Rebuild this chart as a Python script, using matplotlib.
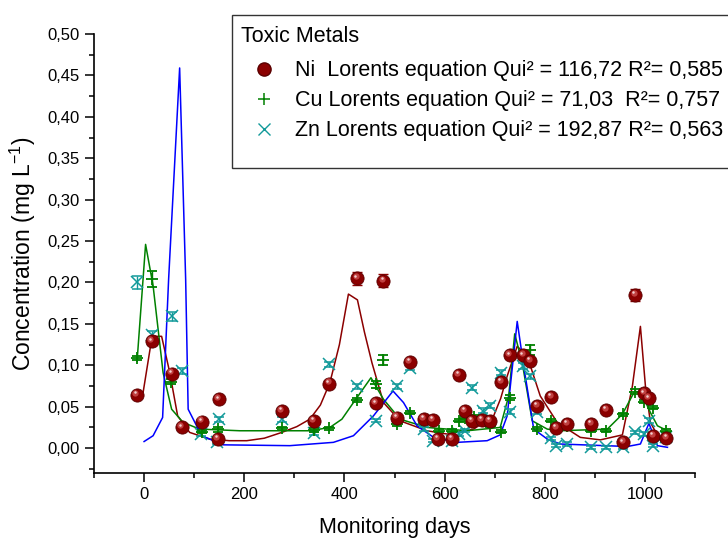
import numpy as np
import matplotlib
matplotlib.use("Agg")
import matplotlib.pyplot as plt
from matplotlib.lines import Line2D
from matplotlib.patches import Rectangle
from matplotlib.ticker import MultipleLocator, FuncFormatter
from matplotlib.transforms import offset_copy

plt.rcParams["font.family"] = ["Liberation Sans", "DejaVu Sans"]

# measured points (monitoring day, concentration mg/L)
ni_x = np.array([-14, 16, 55, 75, 115, 147, 149, 275, 339, 370, 426, 463, 478, 505,
                 531, 559, 576, 587, 615, 628, 641, 655, 675, 691, 713, 730, 757,
                 771, 785, 813, 823, 845, 893, 923, 957, 981, 999, 1008, 1017, 1043])
ni_y = np.array([0.064, 0.129, 0.090, 0.025, 0.032, 0.011, 0.059, 0.045, 0.033, 0.078,
                 0.205, 0.054, 0.202, 0.037, 0.104, 0.035, 0.034, 0.011, 0.011, 0.088,
                 0.045, 0.033, 0.034, 0.033, 0.080, 0.112, 0.112, 0.105, 0.051, 0.062,
                 0.024, 0.029, 0.029, 0.046, 0.007, 0.185, 0.066, 0.060, 0.015, 0.012])
ni_err = np.array([0.003, 0.004, 0.003, 0.003, 0.002, 0.002, 0.002, 0.003, 0.002, 0.003,
                   0.008, 0.003, 0.008, 0.002, 0.003, 0.002, 0.002, 0.002, 0.002, 0.003,
                   0.002, 0.002, 0.002, 0.002, 0.003, 0.004, 0.004, 0.004, 0.003, 0.003,
                   0.002, 0.002, 0.002, 0.002, 0.002, 0.007, 0.003, 0.003, 0.002, 0.002])

cu_x = np.array([-14, 16, 53, 115, 148, 275, 339, 370, 426, 463, 478, 505, 531, 588, 615,
                 628, 641, 658, 691, 712, 731, 771, 785, 813, 845, 893, 923, 957, 981,
                 999, 1008, 1017, 1043])
cu_y = np.array([0.109, 0.204, 0.080, 0.020, 0.023, 0.024, 0.022, 0.024, 0.058, 0.077,
                 0.106, 0.029, 0.043, 0.021, 0.021, 0.033, 0.037, 0.038, 0.027, 0.020,
                 0.061, 0.118, 0.023, 0.033, 0.027, 0.021, 0.021, 0.041, 0.068, 0.056,
                 0.060, 0.049, 0.021])
cu_err = np.array([0.002, 0.010, 0.003, 0.002, 0.003, 0.002, 0.002, 0.002, 0.002, 0.004,
                   0.006, 0.002, 0.002, 0.002, 0.002, 0.002, 0.002, 0.002, 0.002, 0.002,
                   0.003, 0.006, 0.002, 0.002, 0.002, 0.002, 0.002, 0.002, 0.003, 0.002,
                   0.002, 0.002, 0.002])

zn_x = np.array([-14, 16, 55, 75, 113, 146, 150, 275, 339, 370, 426, 463, 505, 531, 559,
                 576, 615, 628, 641, 655, 677, 691, 713, 730, 757, 771, 785, 813, 823,
                 845, 893, 923, 957, 981, 999, 1008, 1017, 1043])
zn_y = np.array([0.200, 0.137, 0.159, 0.093, 0.017, 0.007, 0.035, 0.035, 0.018, 0.101,
                 0.075, 0.033, 0.075, 0.097, 0.023, 0.009, 0.009, 0.017, 0.021, 0.073,
                 0.045, 0.051, 0.091, 0.044, 0.099, 0.087, 0.044, 0.012, 0.003, 0.005,
                 0.001, 0.001, 0.001, 0.019, 0.017, 0.033, 0.003, 0.013])
zn_err = np.array([0.008, 0.005, 0.005, 0.004, 0.002, 0.002, 0.003, 0.003, 0.002, 0.003,
                   0.003, 0.002, 0.003, 0.003, 0.002, 0.002, 0.002, 0.002, 0.002, 0.003,
                   0.003, 0.003, 0.003, 0.003, 0.004, 0.003, 0.003, 0.002, 0.002, 0.002,
                   0.002, 0.002, 0.002, 0.002, 0.002, 0.003, 0.002, 0.002])

# Lorentz fit curves
ni_fit_x = np.array([-2, 16, 35, 51, 67, 91, 131, 170, 205, 240, 275, 305, 331, 352, 371,
                     390, 408, 426, 440, 455, 478, 511, 565, 605, 658, 698, 712, 725,
                     745, 765, 791, 825, 871, 911, 955, 975, 991, 1001, 1011, 1031, 1045])
ni_fit_y = np.array([0.067, 0.135, 0.135, 0.092, 0.039, 0.019, 0.011, 0.009, 0.009, 0.012,
                     0.019, 0.026, 0.035, 0.052, 0.079, 0.125, 0.186, 0.179, 0.140, 0.103,
                     0.055, 0.033, 0.021, 0.017, 0.023, 0.039, 0.060, 0.087, 0.123, 0.111,
                     0.063, 0.031, 0.013, 0.010, 0.016, 0.075, 0.147, 0.075, 0.031, 0.009,
                     0.007])

cu_fit_x = np.array([-14, 3, 18, 38, 55, 78, 111, 191, 331, 371, 395, 418, 453, 478, 511,
                     565, 645, 711, 728, 740, 755, 775, 805, 831, 925, 955, 978, 991,
                     1011, 1025, 1045])
cu_fit_y = np.array([0.105, 0.246, 0.196, 0.091, 0.047, 0.031, 0.023, 0.021, 0.021, 0.025,
                     0.035, 0.055, 0.085, 0.059, 0.035, 0.025, 0.021, 0.025, 0.063, 0.138,
                     0.103, 0.033, 0.023, 0.021, 0.023, 0.041, 0.067, 0.069, 0.043, 0.027,
                     0.021])

zn_fit_x = np.array([0, 18, 37, 49, 71, 83, 88, 115, 158, 291, 378, 418, 458, 497, 518,
                     545, 578, 625, 685, 711, 725, 745, 758, 778, 805, 831, 965, 991,
                     1008, 1025, 1045])
zn_fit_y = np.array([0.008, 0.015, 0.037, 0.204, 0.459, 0.204, 0.047, 0.015, 0.004, 0.003,
                     0.007, 0.015, 0.039, 0.069, 0.055, 0.027, 0.013, 0.007, 0.009, 0.016,
                     0.039, 0.153, 0.099, 0.023, 0.011, 0.005, 0.002, 0.005, 0.030, 0.003,
                     0.001])

legend_title = "Toxic Metals"
labels = ["Ni  Lorents equation Qui² = 116,72 R²= 0,585",
          "Cu Lorents equation Qui² = 71,03  R²= 0,757",
          "Zn Lorents equation Qui² = 192,87 R²= 0,563"]

NI_C = "#8b0000"
CU_C = "#008000"
ZN_C = "#129a9a"

fig = plt.figure(figsize=(7.28, 5.41), dpi=100)
ax = fig.add_axes([94 / 728, 1 - 473 / 541, (695 - 94) / 728, (473 - 34) / 541])

ax.plot(ni_fit_x, ni_fit_y, color=NI_C, lw=1.1, zorder=2)
ax.plot(cu_fit_x, cu_fit_y, color=CU_C, lw=1.1, zorder=2)
ax.plot(zn_fit_x, zn_fit_y, color="#0000ff", lw=1.1, zorder=2)

ax.errorbar(zn_x, zn_y, yerr=zn_err, fmt="x", color=ZN_C, ms=8, mew=1.1,
            capsize=3.5, elinewidth=1, zorder=3)
ax.errorbar(cu_x, cu_y, yerr=cu_err, fmt="+", color=CU_C, ms=9, mew=1.3,
            capsize=3.5, elinewidth=1, zorder=4)
ax.errorbar(ni_x, ni_y, yerr=ni_err, fmt="none", ecolor=NI_C, capsize=3.5,
            elinewidth=1, zorder=5)
# shaded ball look for Ni markers
ax.plot(ni_x, ni_y, "o", ms=9.5, mfc=NI_C, mec="#5a0000", mew=0.6, ls="none", zorder=6)
hl = offset_copy(ax.transData, fig=fig, x=-1.2, y=1.6, units="points")
ax.plot(ni_x, ni_y, "o", ms=4.5, mfc="#c04040", mec="none", ls="none",
        transform=hl, zorder=7)
hl2 = offset_copy(ax.transData, fig=fig, x=-1.4, y=2.0, units="points")
ax.plot(ni_x, ni_y, "o", ms=1.8, mfc="#f2d0d0", mec="none", ls="none",
        transform=hl2, zorder=8)

ax.set_xlim(-100, 1100)
ax.set_ylim(-0.03, 0.50)
ax.xaxis.set_major_locator(MultipleLocator(200))
ax.xaxis.set_minor_locator(MultipleLocator(100))
ax.yaxis.set_major_locator(MultipleLocator(0.05))
ax.yaxis.set_minor_locator(MultipleLocator(0.025))
ax.yaxis.set_major_formatter(FuncFormatter(lambda v, p: f"{v:.2f}".replace(".", ",").replace("-0,00", "0,00")))
ax.spines["top"].set_visible(False)
ax.spines["right"].set_visible(False)
for s in ("left", "bottom"):
    ax.spines[s].set_linewidth(1.2)
ax.tick_params(which="major", direction="out", length=6.5, width=1.1, labelsize=12)
ax.tick_params(which="minor", direction="out", length=3.5, width=1.1)

ax.set_xlabel("Monitoring days", fontsize=15.5, labelpad=11)
ax.set_ylabel("Concentration (mg L$^{\\mathregular{-1}}$)", fontsize=16.5, labelpad=7)

# legend box runs off the right edge of the figure
fig.patches.append(Rectangle((232 / 728, 1 - 168 / 541), 500 / 728, 153 / 541,
                             transform=fig.transFigure, fill=True, facecolor="white",
                             edgecolor="#333333", lw=1.0, zorder=5))
fig.text(241 / 728, 1 - 36 / 541, legend_title, fontsize=15.5, va="center",
         ha="left", zorder=7)

handles = [
    Line2D([], [], ls="none", marker="o", ms=9.5, mfc=NI_C, mec="#5a0000"),
    Line2D([], [], ls="none", marker="+", ms=9, mew=1.1, color=CU_C),
    Line2D([], [], ls="none", marker="x", ms=8, mew=1.0, color=ZN_C),
]
leg = fig.legend(handles, labels, loc="upper left",
                 bbox_to_anchor=(235 / 728, 1 - 56 / 541), fontsize=15.5,
                 frameon=False, borderpad=0.2,
                 handletextpad=0.34, labelspacing=0.42, borderaxespad=0,
                 handlelength=2.25)
leg.set_zorder(6)

fig.savefig("out.png", dpi=100)
